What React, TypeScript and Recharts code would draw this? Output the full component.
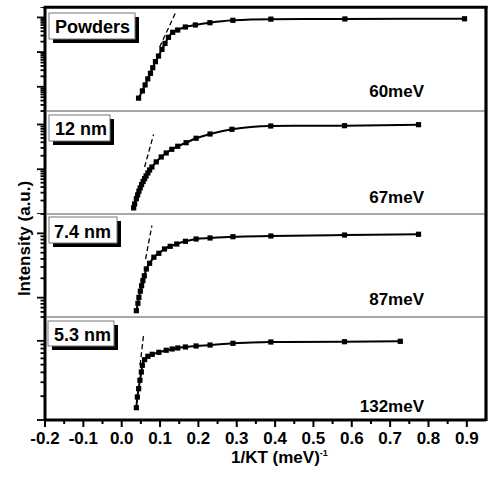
import React from 'react';
import { LineChart, Line, XAxis, YAxis } from 'recharts';

const FONT = "Arial, 'Liberation Sans', Helvetica, sans-serif";

// ---- data (1/KT in meV^-1, intensity in a.u.) ----
const powdersX = [0.044, 0.054, 0.061, 0.068, 0.075, 0.081, 0.088, 0.096, 0.105, 0.113, 0.122, 0.133, 0.146, 0.166, 0.192, 0.23, 0.29, 0.389, 0.582, 0.894];
const powdersY = [4.7, 7.6, 11.3, 16.9, 24.5, 35.5, 53, 77, 120, 178, 267, 373, 434, 530, 605, 705, 827, 893, 905, 915];

const nm12X = [0.0312, 0.0338, 0.0382, 0.0416, 0.0449, 0.0481, 0.0519, 0.0558, 0.0597, 0.0636, 0.0683, 0.0727, 0.0787, 0.0901, 0.1031, 0.1161, 0.1306, 0.1462, 0.168, 0.194, 0.2304, 0.2875, 0.3888, 0.581, 0.774];
const nm12Y = [13.7, 16.8, 22, 26.7, 32.3, 38.2, 45.3, 53.4, 61.7, 70.8, 82.6, 96.4, 112, 146, 188, 231, 279, 326, 392, 492, 613, 781, 925, 940, 989];

const nm74X = [0.0382, 0.0423, 0.0449, 0.0486, 0.0519, 0.0553, 0.059, 0.0642, 0.0727, 0.0839, 0.0969, 0.1117, 0.1265, 0.1436, 0.1662, 0.194, 0.2304, 0.2901, 0.389, 0.581, 0.774];
const nm74Y = [62.7, 81.7, 101, 126, 153, 184, 219, 279, 342, 425, 490, 571, 629, 683, 752, 817, 847, 887, 910, 942, 967];

const nm53X = [0.0382, 0.0408, 0.0442, 0.0475, 0.0512, 0.0538, 0.0597, 0.0683, 0.0797, 0.0969, 0.1161, 0.1317, 0.1462, 0.1662, 0.194, 0.2304, 0.2901, 0.389, 0.581, 0.7265];
const nm53Y = [143, 195, 249, 318, 404, 491, 578, 638, 676, 716, 760, 789, 813, 836, 861, 885, 931, 967, 975, 986];

// dashed tangent (activation-energy fit) lines
const powdersTanX = [0.099, 0.14];
const powdersTanY = [140, 1343];
const nm12TanX = [0.0597, 0.0831];
const nm12TanY = [112, 597];
const nm74TanX = [0.0623, 0.0787];
const nm74TanY = [399, 1315];
const nm53TanX = [0.048, 0.057];
const nm53TanY = [495, 1185];

const panelNames = ['Powders', '12 nm', '7.4 nm', '5.3 nm'];
const energyLabels = ['60meV', '67meV', '87meV', '132meV'];

// axis ticks
const xTicks = [-0.2, -0.15, -0.1, -0.05, 0, 0.05, 0.1, 0.15, 0.2, 0.25, 0.3, 0.35, 0.4, 0.45, 0.5, 0.55, 0.6, 0.65, 0.7, 0.75, 0.8, 0.85, 0.9];
const yTicks1 = [2, 3, 4, 5, 6, 7, 8, 9, 10, 20, 30, 40, 50, 60, 70, 80, 90, 100, 200, 300, 400, 500, 600, 700, 800, 900, 1000, 2000];
const yTicks2 = [10, 20, 30, 40, 50, 60, 70, 80, 90, 100, 200, 300, 400, 500, 600, 700, 800, 900, 1000, 2000];
const yTicks3 = [50, 60, 70, 80, 90, 100, 200, 300, 400, 500, 600, 700, 800, 900, 1000, 2000];
const yTicks4 = [100, 200, 300, 400, 500, 600, 700, 800, 900, 1000, 2000];

const yDomain1: [number, number] = [2, 2000];
const yDomain2: [number, number] = [10, 2000];
const yDomain3: [number, number] = [50, 2000];
const yDomain4: [number, number] = [100, 2000];

const X_DOMAIN: [number, number] = [-0.2, 0.95];

const toRows = (xs: number[], ys: number[]) => xs.map((x, i) => ({ x, y: ys[i] }));

const panels = [
  { data: toRows(powdersX, powdersY), tan: toRows(powdersTanX, powdersTanY), domain: yDomain1, ticks: yTicks1 },
  { data: toRows(nm12X, nm12Y), tan: toRows(nm12TanX, nm12TanY), domain: yDomain2, ticks: yTicks2 },
  { data: toRows(nm74X, nm74Y), tan: toRows(nm74TanX, nm74TanY), domain: yDomain3, ticks: yTicks3 },
  { data: toRows(nm53X, nm53Y), tan: toRows(nm53TanX, nm53TanY), domain: yDomain4, ticks: yTicks4 },
];

// layout (page pixels)
const panelTops = [7, 111, 214, 317];
const panelHeights = [104, 103, 103, 103];
const XAXIS_H = 57;
const labelBoxes = [
  { x: 49, y: 13, w: 86, h: 26, tx: 55, ty: 32.5 },
  { x: 49, y: 115, w: 61, h: 26, tx: 55, ty: 135 },
  { x: 49, y: 217, w: 68, h: 26, tx: 54, ty: 237.5 },
  { x: 48, y: 321, w: 66, h: 25, tx: 54, ty: 341 },
];
const energyPos = [
  { x: 424, y: 96.5 },
  { x: 424, y: 203 },
  { x: 424, y: 305 },
  { x: 424, y: 411.5 },
];

const isDecade = (v: number) => {
  const l = Math.log10(v);
  return Math.abs(l - Math.round(l)) < 1e-6;
};

const YTick = (props: any) => {
  const { x, y, payload } = props;
  const major = isDecade(payload.value);
  const len = major ? 8 : 4.5;
  return <line x1={x - len} x2={x} y1={y} y2={y} stroke="#000" strokeWidth={1.8} />;
};

const XTick = (props: any) => {
  const { x, y, payload } = props;
  const v = payload.value as number;
  const major = Math.abs(v * 10 - Math.round(v * 10)) < 1e-6;
  return (
    <g>
      <line x1={x} x2={x} y1={y} y2={y + (major ? 7 : 4)} stroke="#000" strokeWidth={2} />
      {major && (
        <text x={x} y={y + 23.5} textAnchor="middle" fontFamily={FONT} fontWeight="bold" fontSize={17} fill="#000">
          {v.toFixed(1)}
        </text>
      )}
    </g>
  );
};

const SquareDot = (props: any) => {
  const { cx, cy, index } = props;
  if (cx == null || cy == null) return <g key={index} />;
  return <rect key={index} x={cx - 2.6} y={cy - 2.6} width={5.2} height={5.2} fill="#000" />;
};

export default function App() {
  return (
    <div style={{ position: 'absolute', left: 0, top: 0, width: 489, height: 477, background: '#fff' }}>
      {panels.map((p, i) => {
        const last = i === panels.length - 1;
        const h = panelHeights[i] + (last ? XAXIS_H : 0);
        return (
          <div key={i} style={{ position: 'absolute', left: 0, top: panelTops[i] }}>
            <LineChart width={489} height={h} margin={{ top: 0, right: 3, bottom: 0, left: 0 }}>
              <XAxis
                type="number"
                dataKey="x"
                domain={X_DOMAIN}
                allowDataOverflow
                hide={!last}
                height={XAXIS_H}
                ticks={xTicks}
                interval={0}
                tick={<XTick />}
                tickLine={false}
                tickSize={0}
                tickMargin={0}
                axisLine={{ stroke: '#000', strokeWidth: 3 }}
              />
              <YAxis
                type="number"
                scale="log"
                domain={p.domain}
                allowDataOverflow
                ticks={p.ticks}
                interval={0}
                tick={<YTick />}
                tickLine={false}
                tickSize={0}
                tickMargin={0}
                width={45}
                axisLine={{ stroke: '#000', strokeWidth: 3 }}
              />
              <Line
                data={p.tan}
                dataKey="y"
                type="linear"
                stroke="#000"
                strokeWidth={1.3}
                strokeDasharray="5 3"
                dot={false}
                activeDot={false}
                isAnimationActive={false}
              />
              <Line
                data={p.data}
                dataKey="y"
                type="monotone"
                stroke="#000"
                strokeWidth={2}
                dot={SquareDot}
                activeDot={false}
                isAnimationActive={false}
              />
            </LineChart>
          </div>
        );
      })}
      <svg
        width={489}
        height={477}
        style={{ position: 'absolute', left: 0, top: 0, pointerEvents: 'none' }}
      >
        {/* separators between panels */}
        {panelTops.slice(1).map((t, i) => (
          <line key={'s' + i} x1={46.5} x2={484.5} y1={t} y2={t} stroke="#8a8a8a" strokeWidth={1.3} />
        ))}
        {/* frame: top and right */}
        <line x1={43.5} x2={487.5} y1={7.3} y2={7.3} stroke="#000" strokeWidth={3} />
        <line x1={486} x2={486} y1={6} y2={421} stroke="#000" strokeWidth={3.2} />
        {/* panel name boxes */}
        {labelBoxes.map((b, i) => (
          <g key={'b' + i}>
            <rect x={b.x + 4} y={b.y + 4} width={b.w} height={b.h} fill="#000" />
            <rect x={b.x} y={b.y} width={b.w} height={b.h} fill="#fff" stroke="#777" strokeWidth={1} />
            <text x={b.tx} y={b.ty} fontFamily={FONT} fontWeight="bold" fontSize={18} fill="#000">
              {panelNames[i]}
            </text>
          </g>
        ))}
        {/* activation energies */}
        {energyPos.map((e, i) => (
          <text key={'e' + i} x={e.x} y={e.y} textAnchor="end" fontFamily={FONT} fontWeight="bold" fontSize={17} fill="#000">
            {energyLabels[i]}
          </text>
        ))}
        {/* axis titles */}
        <text
          x={29.5}
          y={238.5}
          textAnchor="middle"
          transform="rotate(-90 29.5 238.5)"
          fontFamily={FONT}
          fontWeight="bold"
          fontSize={17}
          fill="#000"
        >
          Intensity (a.u.)
        </text>
        <text x={231} y={463} fontFamily={FONT} fontWeight="bold" fontSize={17} fill="#000">
          1/KT (meV)
          <tspan fontSize={9} dy={-7}>-1</tspan>
        </text>
      </svg>
    </div>
  );
}
